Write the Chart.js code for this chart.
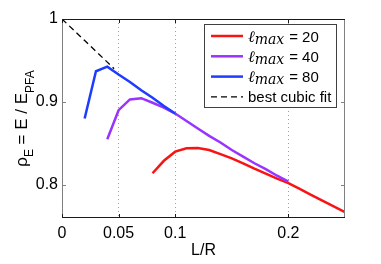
<!DOCTYPE html>
<html>
<head>
<meta charset="utf-8">
<script src="https://cdn.jsdelivr.net/npm/chart.js@4.4.1/dist/chart.umd.min.js"></script>
<style>
html, body { margin: 0; padding: 0; background: #fff; }
#wrap { width: 381px; height: 264px; }
</style>
</head>
<body>
<div id="wrap"><canvas id="rho-chart" width="381" height="264"></canvas></div>
<script>
// L/R and rho_E
const xRed = [0.08, 0.09, 0.10, 0.11, 0.12, 0.13, 0.14, 0.15, 0.16, 0.17, 0.18, 0.19, 0.20, 0.21, 0.22, 0.23, 0.24, 0.25];
const yRed = [0.814, 0.829, 0.840, 0.844, 0.8445, 0.842, 0.837, 0.832, 0.826, 0.8195, 0.8135, 0.8075, 0.802, 0.795, 0.788, 0.781, 0.774, 0.767];

const xPurple = [0.04, 0.05, 0.06, 0.07, 0.08, 0.09, 0.10, 0.11, 0.12, 0.13, 0.14, 0.15, 0.16, 0.17, 0.18, 0.19, 0.20];
const yPurple = [0.855, 0.890, 0.903, 0.9045, 0.899, 0.893, 0.886, 0.877, 0.868, 0.859, 0.851, 0.842, 0.834, 0.826, 0.819, 0.811, 0.804];

const xBlue = [0.02, 0.03, 0.04, 0.05, 0.06, 0.07, 0.08, 0.09, 0.10];
const yBlue = [0.880, 0.937, 0.9425, 0.933, 0.924, 0.914, 0.905, 0.895, 0.886];

const xFit = [0, 0.01, 0.02, 0.03, 0.04, 0.046];
const yFit = [1, 0.987, 0.974, 0.961, 0.948, 0.940];

const lmaxValues = [20, 40, 80];
const xTicks = [0, 0.05, 0.1, 0.2];
const yTicks = [0.8, 0.9, 1];

const sansFont = "'Liberation Sans', Arial, sans-serif";
const serifFont = "'DejaVu Serif', 'Liberation Serif', serif";

function toPoints(xs, ys) {
    return xs.map((x, i) => ({ x: x, y: ys[i] }));
}

// frame, inward tick marks, y title and legend box
const decorations = {
    id: 'decorations',
    afterDraw(chart) {
        const ctx = chart.ctx;
        const area = chart.chartArea;
        const xs = chart.scales.x;
        const ys = chart.scales.y;

        ctx.save();
        ctx.lineWidth = 1;

        // axes box
        ctx.strokeStyle = '#808080';
        ctx.beginPath();
        ctx.moveTo(area.left + 0.5, area.top);
        ctx.lineTo(area.left + 0.5, area.bottom);
        ctx.moveTo(area.right - 0.5, area.top);
        ctx.lineTo(area.right - 0.5, area.bottom);
        yTicks.forEach(v => {
            const py = Math.round(ys.getPixelForValue(v)) + 0.5;
            ctx.moveTo(area.left, py);
            ctx.lineTo(area.left + 4, py);
            ctx.moveTo(area.right, py);
            ctx.lineTo(area.right - 4, py);
        });
        ctx.stroke();

        ctx.strokeStyle = '#1a1a1a';
        ctx.beginPath();
        ctx.moveTo(area.left, area.top + 0.5);
        ctx.lineTo(area.right, area.top + 0.5);
        ctx.moveTo(area.left, area.bottom - 0.5);
        ctx.lineTo(area.right, area.bottom - 0.5);
        xTicks.forEach(v => {
            const px = Math.round(xs.getPixelForValue(v)) + 0.5;
            ctx.moveTo(px, area.bottom);
            ctx.lineTo(px, area.bottom - 4);
            ctx.moveTo(px, area.top);
            ctx.lineTo(px, area.top + 4);
        });
        ctx.stroke();

        // y axis title: rho_E = E / E_PFA
        const pieces = [
            { t: 'ρ', size: 17, dy: 0 },
            { t: 'E', size: 12, dy: 6 },
            { t: ' = E / E', size: 17, dy: 0 },
            { t: 'PFA', size: 12, dy: 7 }
        ];
        let total = 0;
        pieces.forEach(p => {
            ctx.font = p.size + 'px ' + sansFont;
            p.w = ctx.measureText(p.t).width;
            total += p.w;
        });
        ctx.translate(27, (area.top + area.bottom) / 2);
        ctx.rotate(-Math.PI / 2);
        ctx.fillStyle = '#000';
        ctx.textBaseline = 'alphabetic';
        let cx = -total / 2;
        pieces.forEach(p => {
            ctx.font = p.size + 'px ' + sansFont;
            ctx.fillText(p.t, cx, p.dy);
            cx += p.w;
        });
        ctx.restore();

        // legend
        ctx.save();
        const bx = area.right - 141, by = area.top + 5, bw = 132, bh = 83;
        ctx.fillStyle = '#fff';
        ctx.fillRect(bx, by, bw, bh);
        ctx.strokeStyle = '#404040';
        ctx.lineWidth = 1;
        ctx.strokeRect(bx + 0.5, by + 0.5, bw, bh);
        chart.data.datasets.forEach((ds, i) => {
            const ry = by + 12 + i * 20.3;
            ctx.strokeStyle = ds.borderColor;
            ctx.lineWidth = ds.borderWidth;
            ctx.setLineDash(ds.borderDash || []);
            ctx.beginPath();
            ctx.moveTo(bx + 7, ry);
            ctx.lineTo(bx + 39, ry);
            ctx.stroke();
            ctx.setLineDash([]);
            ctx.fillStyle = '#000';
            ctx.textBaseline = 'alphabetic';
            let tx = bx + 44;
            const base = ry + 5.5;
            if (i < lmaxValues.length) {
                ctx.font = 'italic 16px ' + serifFont;
                ctx.fillText('ℓ', tx, base);
                tx += ctx.measureText('ℓ').width;
                ctx.font = 'italic 14px ' + serifFont;
                ctx.fillText('max', tx, base + 2);
                tx += ctx.measureText('max').width + 5;
                ctx.font = '15px ' + sansFont;
                ctx.fillText('= ' + lmaxValues[i], tx, base);
            } else {
                ctx.font = '15px ' + sansFont;
                ctx.fillText(ds.label, tx, base);
            }
        });
        ctx.restore();
    }
};

const rhoCanvas = document.getElementById('rho-chart').getContext('2d');

const rhoData = {
    datasets: [{
        label: 'ℓmax = 20',
        data: toPoints(xRed, yRed),
        borderColor: '#f81414',
        borderWidth: 2.5,
        order: 3
    }, {
        label: 'ℓmax = 40',
        data: toPoints(xPurple, yPurple),
        borderColor: '#9933ff',
        borderWidth: 2.5,
        order: 2
    }, {
        label: 'ℓmax = 80',
        data: toPoints(xBlue, yBlue),
        borderColor: '#1e3cff',
        borderWidth: 2.5,
        order: 1
    }, {
        label: 'best cubic fit',
        data: toPoints(xFit, yFit),
        borderColor: '#000',
        borderWidth: 1.3,
        borderDash: [6, 4],
        order: 0
    }]
};

const rhoOptions = {
    responsive: false,
    animation: false,
    devicePixelRatio: 1,
    layout: {
        padding: { top: 19, right: 36, left: 0, bottom: 0 }
    },
    elements: {
        point: { radius: 0 },
        line: { tension: 0, fill: false, borderCapStyle: 'butt' }
    },
    scales: {
        x: {
            type: 'linear',
            min: 0,
            max: 0.25,
            afterBuildTicks: scale => {
                scale.ticks = xTicks.map(v => ({ value: v }));
            },
            afterFit: scale => {
                scale.height = 46;
            },
            ticks: {
                autoSkip: false,
                maxRotation: 0,
                padding: 6,
                color: '#000',
                font: { family: sansFont, size: 16 },
                callback: v => String(v)
            },
            grid: {
                drawTicks: false,
                lineWidth: 1,
                color: c => (c.tick && c.tick.value === 0) ? 'rgba(0,0,0,0)' : '#a0a0a0'
            },
            border: { display: false, dash: [1, 3] },
            title: {
                display: true,
                text: 'L/R',
                color: '#000',
                font: { family: sansFont, size: 16 },
                padding: { top: 0, bottom: 4 }
            }
        },
        y: {
            type: 'linear',
            min: 0.76,
            max: 1.0,
            afterBuildTicks: scale => {
                scale.ticks = yTicks.map(v => ({ value: v }));
            },
            afterFit: scale => {
                scale.width = 62;
            },
            ticks: {
                autoSkip: false,
                padding: 4,
                color: '#000',
                font: { family: sansFont, size: 16 },
                callback: v => v === 1 ? '1' : v.toFixed(1)
            },
            grid: { display: false, drawTicks: false },
            border: { display: false }
        }
    },
    plugins: {
        legend: { display: false },
        tooltip: { enabled: false }
    }
};

let rhoChart = new Chart(rhoCanvas, {
    type: 'line',
    data: rhoData,
    options: rhoOptions,
    plugins: [decorations]
});
</script>
</body>
</html>
